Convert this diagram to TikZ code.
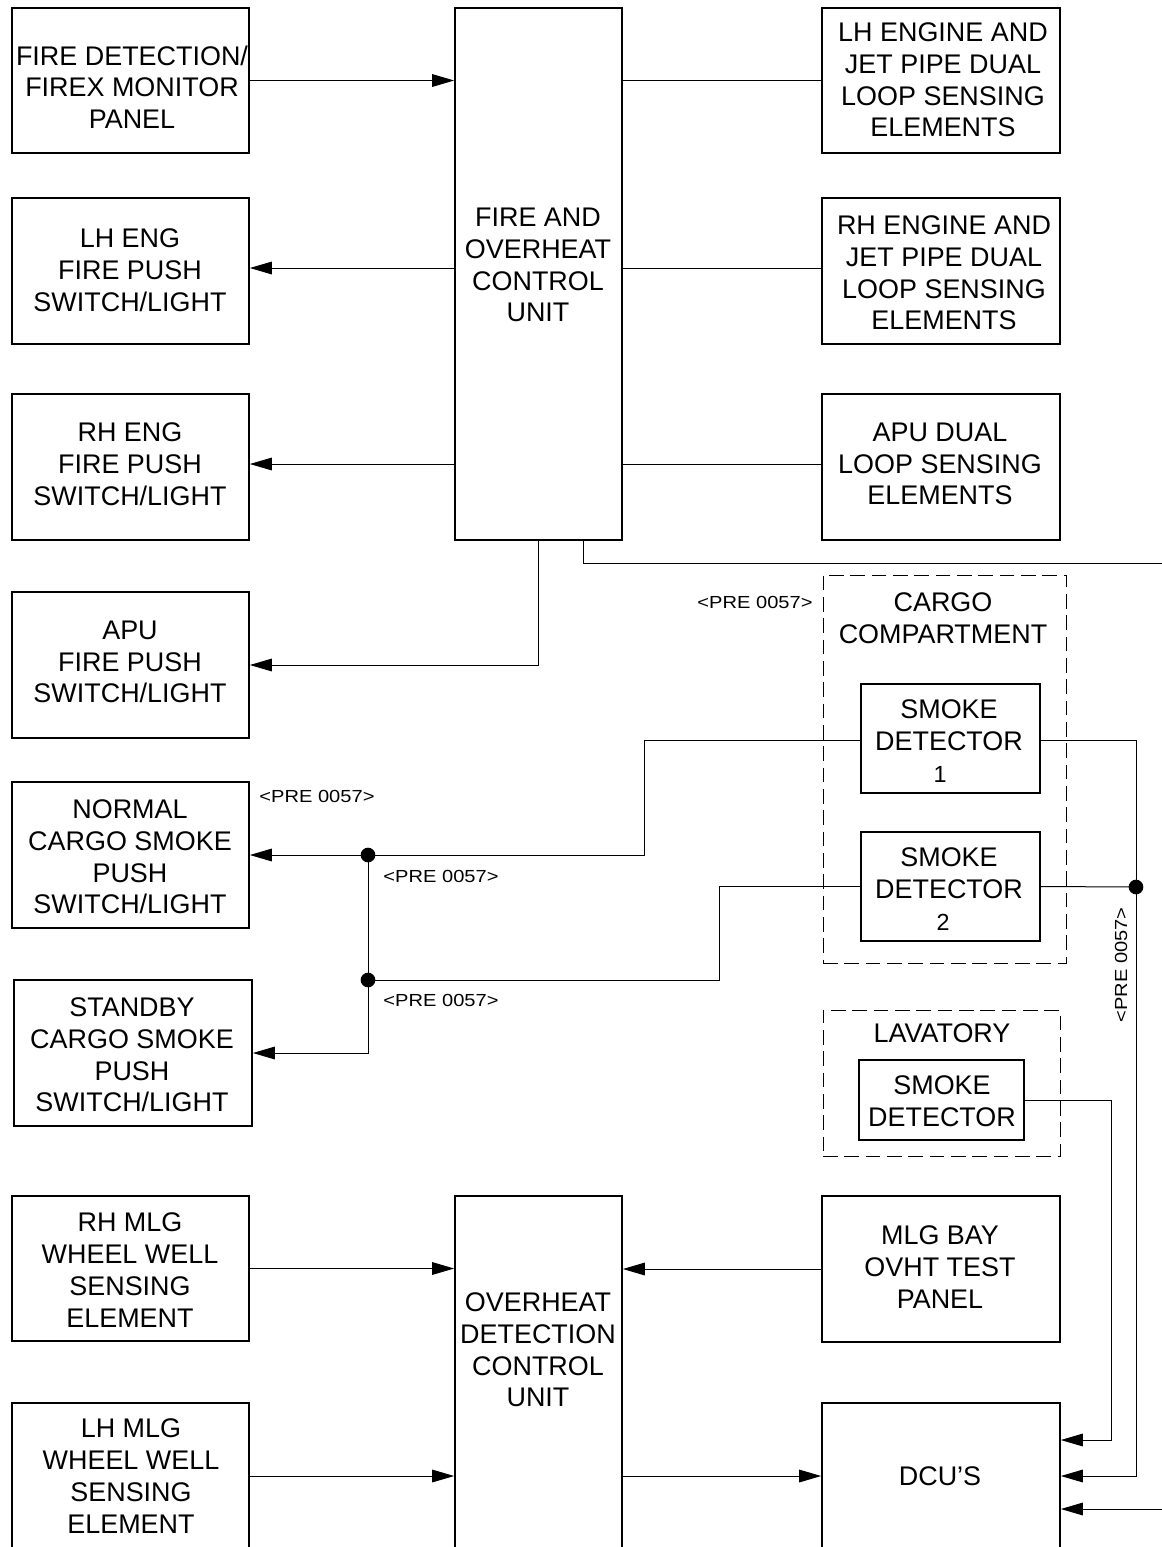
\documentclass[tikz,border=0pt]{standalone}
\usepackage{fontspec}
\setmainfont{Liberation Sans}
\newfontfamily\prefont[FakeStretch=1.15]{Liberation Sans}
\usetikzlibrary{arrows.meta,fit}
\begin{document}
\begin{tikzpicture}[x=0.75pt,y=-0.75pt,
  box/.style={draw, line width=1.3pt, inner sep=0pt},
  dbox/.style={draw, line width=0.7pt, dash pattern=on 11pt off 5pt, inner sep=0pt},
  txt/.style={align=center, font=\fontsize{20.2}{23.8}\selectfont, inner sep=0pt},
  num/.style={font=\fontsize{17.5}{20}\selectfont, inner sep=0pt},
  pre/.style={font=\prefont\fontsize{13.1}{15}\selectfont, inner sep=0pt},
  wire/.style={line width=0.75pt},
  arr/.style={wire, -{Triangle[length=16.5pt,width=9.5pt]}},
  jdot/.style={circle, fill, inner sep=0pt, minimum size=11pt}
]
\useasboundingbox (0,0) rectangle (1162,1547);
\clip (0,0) rectangle (1162,1547);
\fill[white] (0,0) rectangle (1162,1547);

% left column
\node[box, fit={(12,8)(249,153)}] (L1) {};
\node[txt] (L1t) at (132,87) {FIRE DETECTION/\\FIREX MONITOR\\PANEL};
\node[box, fit={(12,198)(249,344)}] (L2) {};
\node[txt] (L2t) at (130,270) {LH ENG\\FIRE PUSH\\SWITCH/LIGHT};
\node[box, fit={(12,394)(249,540)}] (L3) {};
\node[txt] (L3t) at (130,464) {RH ENG\\FIRE PUSH\\SWITCH/LIGHT};
\node[box, fit={(12,592)(249,738)}] (L4) {};
\node[txt] (L4t) at (130,662) {APU\\FIRE PUSH\\SWITCH/LIGHT};
\node[box, fit={(12,782)(249,928)}] (L5) {};
\node[txt] (L5t) at (130,857) {NORMAL\\CARGO SMOKE\\PUSH\\SWITCH/LIGHT};
\node[box, fit={(14,980)(252,1126)}] (L6) {};
\node[txt] (L6t) at (132,1055) {STANDBY\\CARGO SMOKE\\PUSH\\SWITCH/LIGHT};
\node[box, fit={(12,1196)(249,1341)}] (L7) {};
\node[txt] (L7t) at (130,1270) {RH MLG\\WHEEL WELL\\SENSING\\ELEMENT};
\node[box, fit={(12,1403)(249,1549)}] (L8) {};
\node[txt] (L8t) at (131,1476) {LH MLG\\WHEEL WELL\\SENSING\\ELEMENT};

% centre column
\node[box, fit={(455,8)(622,540)}] (C1) {};
\node[txt] (C1t) at (538,265) {FIRE AND\\OVERHEAT\\CONTROL\\UNIT};
\node[box, fit={(455,1196)(622,1549)}] (C2) {};
\node[txt] (C2t) at (538,1350) {OVERHEAT\\DETECTION\\CONTROL\\UNIT};

% right column
\node[box, fit={(822,8)(1060,153)}] (R1) {};
\node[txt] (R1t) at (943,80) {LH ENGINE AND\\JET PIPE DUAL\\LOOP SENSING\\ELEMENTS};
\node[box, fit={(822,198)(1060,344)}] (R2) {};
\node[txt] (R2t) at (944,273) {RH ENGINE AND\\JET PIPE DUAL\\LOOP SENSING\\ELEMENTS};
\node[box, fit={(822,394)(1060,540)}] (R3) {};
\node[txt] (R3t) at (940,464) {APU DUAL\\LOOP SENSING\\ELEMENTS};

\node[dbox, fit={(823,575)(1066,963)}] (CG) {};
\node[txt] (CGt) at (943,618) {CARGO\\COMPARTMENT};
\node[box, fit={(861,684)(1040,793)}] (SD1) {};
\node[txt] (SD1t) at (949,725) {SMOKE\\DETECTOR};
\node[num] (SD1n) at (940,774) {1};
\node[box, fit={(861,832)(1040,941)}] (SD2) {};
\node[txt] (SD2t) at (949,873) {SMOKE\\DETECTOR};
\node[num] (SD2n) at (943,922) {2};

\node[dbox, fit={(823,1010)(1060,1156)}] (LV) {};
\node[txt] (LVt) at (942,1033) {LAVATORY};
\node[box, fit={(859,1060)(1024,1140)}] (SD3) {};
\node[txt] (SD3t) at (942,1101) {SMOKE\\DETECTOR};

\node[box, fit={(822,1196)(1060,1342)}] (R4) {};
\node[txt] (R4t) at (940,1267) {MLG BAY\\OVHT TEST\\PANEL};
\node[box, fit={(822,1403)(1060,1549)}] (R5) {};
\node[txt] (R5t) at (940,1476) {DCU'S};

% labels
\node[pre] (p1) at (755,602) {<PRE 0057>};
\node[pre] (p2) at (317,796) {<PRE 0057>};
\node[pre] (p3) at (441,876) {<PRE 0057>};
\node[pre] (p4) at (441,1000) {<PRE 0057>};
\node[pre, rotate=90] (p5) at (1121,965) {<PRE 0057>};

% junctions
\node[jdot] (j1) at (368,855) {};
\node[jdot] (j2) at (368,980) {};
\node[jdot] (j3) at (1136,887) {};
\coordinate (e1) at (1162,563);
\coordinate (e2) at (1162,1509);

% connectors
\draw[arr] (L1.east) -- (L1.east -| C1.west);
\draw[arr] ([yshift=2.25pt]C1.west |- L2.east) -- ([yshift=2.25pt]L2.east);
\draw[arr] ([yshift=2.25pt]C1.west |- L3.east) -- ([yshift=2.25pt]L3.east);
\draw[arr] (C1.south) |- (L4.east);
\draw[wire] (C1.east |- R1.west) -- (R1.west);
\draw[wire] ([yshift=2.25pt]C1.east |- R2.west) -- ([yshift=2.25pt]R2.west);
\draw[wire] ([yshift=2.25pt]C1.east |- R3.west) -- ([yshift=2.25pt]R3.west);
\draw[wire] ([xshift=33.4pt]C1.south) |- (e1);

\draw[wire] ([yshift=-1.5pt]SD1.west) -- ([yshift=-1.5pt]SD1.west -| 644,0) |- (j1.center);
\draw[arr] (j1.center) -- (L5.east);
\draw[wire] (SD2.west) -- (SD2.west -| 719,0) |- (j2.center);
\draw[wire] (j1.center) -- (j2.center);
\draw[arr] (j2.center) |- (L6.east);

\draw[wire] ([yshift=-1.5pt]SD1.east) -| (j3.center);
\draw[wire] (SD2.east) -- (j3.center);
\draw[arr] (j3.center) |- (R5.east);
\draw[arr] (SD3.east) -- (SD3.east -| 1111,0) |- ([yshift=27pt]R5.east);
\draw[arr] (e2) -- ([yshift=-24.75pt]R5.east);

\draw[arr] (R4.west) -- (R4.west -| C2.east);
\draw[arr] (L7.east) -- (L7.east -| C2.west);
\draw[arr] (L8.east) -- (L8.east -| C2.west);
\draw[arr] (C2.east |- R5.west) -- (R5.west);
\end{tikzpicture}
\end{document}
